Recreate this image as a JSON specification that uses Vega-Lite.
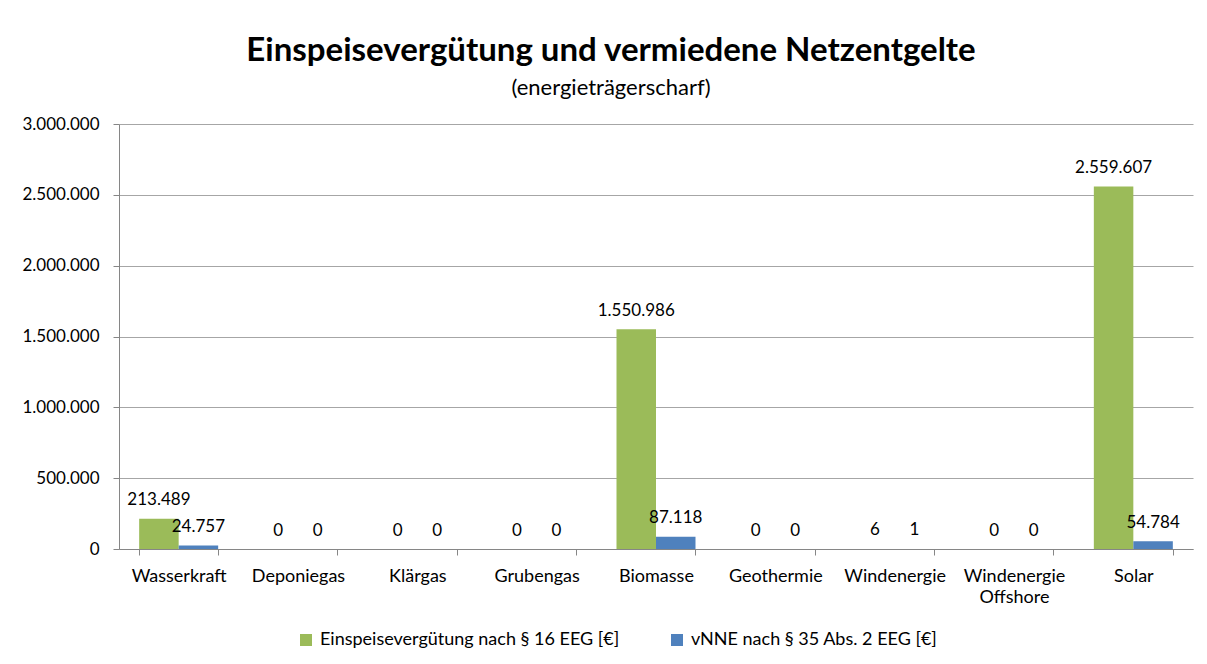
{
  "$schema": "https://vega.github.io/schema/vega-lite/v6.json",
  "width": 1074,
  "height": 425,
  "autosize": {"type": "none"},
  "padding": {"left": 119, "top": 124, "right": 14, "bottom": 115},
  "background": "white",
  "config": {
    "locale": {"number": {"decimal": ",", "thousands": ".", "grouping": [3], "currency": ["", " €"]}},
    "font": "Lato",
    "view": {"stroke": null},
    "axis": {"labelFont": "Lato", "labelFontSize": 17, "labelColor": "#000000", "domainColor": "#868686", "tickColor": "#868686", "gridColor": "#a6a6a6"}
  },
  "title": {
    "text": "Einspeisevergütung und vermiedene Netzentgelte",
    "subtitle": "(energieträgerscharf)",
    "font": "Lato",
    "fontSize": 33,
    "fontWeight": "bold",
    "color": "#000000",
    "subtitleFont": "Lato",
    "subtitleFontSize": 22,
    "subtitleColor": "#000000",
    "subtitlePadding": 10,
    "anchor": "middle",
    "frame": "group",
    "dx": -45,
    "offset": 16
  },
  "data": {
    "values": [
      {"Energieträger": "Wasserkraft", "Reihe": "Einspeisevergütung nach § 16 EEG [€]", "Wert": 213489},
      {"Energieträger": "Wasserkraft", "Reihe": "vNNE nach § 35 Abs. 2 EEG [€]", "Wert": 24757},
      {"Energieträger": "Deponiegas", "Reihe": "Einspeisevergütung nach § 16 EEG [€]", "Wert": 0},
      {"Energieträger": "Deponiegas", "Reihe": "vNNE nach § 35 Abs. 2 EEG [€]", "Wert": 0},
      {"Energieträger": "Klärgas", "Reihe": "Einspeisevergütung nach § 16 EEG [€]", "Wert": 0},
      {"Energieträger": "Klärgas", "Reihe": "vNNE nach § 35 Abs. 2 EEG [€]", "Wert": 0},
      {"Energieträger": "Grubengas", "Reihe": "Einspeisevergütung nach § 16 EEG [€]", "Wert": 0},
      {"Energieträger": "Grubengas", "Reihe": "vNNE nach § 35 Abs. 2 EEG [€]", "Wert": 0},
      {"Energieträger": "Biomasse", "Reihe": "Einspeisevergütung nach § 16 EEG [€]", "Wert": 1550986},
      {"Energieträger": "Biomasse", "Reihe": "vNNE nach § 35 Abs. 2 EEG [€]", "Wert": 87118},
      {"Energieträger": "Geothermie", "Reihe": "Einspeisevergütung nach § 16 EEG [€]", "Wert": 0},
      {"Energieträger": "Geothermie", "Reihe": "vNNE nach § 35 Abs. 2 EEG [€]", "Wert": 0},
      {"Energieträger": "Windenergie", "Reihe": "Einspeisevergütung nach § 16 EEG [€]", "Wert": 6},
      {"Energieträger": "Windenergie", "Reihe": "vNNE nach § 35 Abs. 2 EEG [€]", "Wert": 1},
      {"Energieträger": "Windenergie Offshore", "Reihe": "Einspeisevergütung nach § 16 EEG [€]", "Wert": 0},
      {"Energieträger": "Windenergie Offshore", "Reihe": "vNNE nach § 35 Abs. 2 EEG [€]", "Wert": 0},
      {"Energieträger": "Solar", "Reihe": "Einspeisevergütung nach § 16 EEG [€]", "Wert": 2559607},
      {"Energieträger": "Solar", "Reihe": "vNNE nach § 35 Abs. 2 EEG [€]", "Wert": 54784}
    ]
  },
  "encoding": {
    "x": {
      "field": "Energieträger",
      "type": "nominal",
      "sort": null,
      "scale": {"paddingInner": 0.338, "paddingOuter": 0.169},
      "axis": {
        "title": null,
        "labelAngle": 0,
        "labelFontSize": 18,
        "tickBand": "extent",
        "tickSize": 6,
        "labelPadding": 12,
        "labelLineHeight": 21,
        "labelExpr": "datum.value == 'Windenergie Offshore' ? ['Windenergie', 'Offshore'] : datum.label",
        "grid": false
      }
    },
    "xOffset": {"field": "Reihe", "type": "nominal", "sort": null, "scale": {"padding": 0}},
    "y": {
      "field": "Wert",
      "type": "quantitative",
      "scale": {"domain": [0, 3000000], "nice": false},
      "axis": {
        "title": null,
        "values": [0, 500000, 1000000, 1500000, 2000000, 2500000, 3000000],
        "format": ",d",
        "tickSize": 6,
        "labelPadding": 14,
        "grid": true
      }
    }
  },
  "layer": [
    {
      "mark": {"type": "bar"},
      "encoding": {
        "color": {
          "field": "Reihe",
          "type": "nominal",
          "scale": {"domain": ["Einspeisevergütung nach § 16 EEG [€]", "vNNE nach § 35 Abs. 2 EEG [€]"], "range": ["#9BBB59", "#4F81BD"]},
          "legend": {
            "title": null,
            "orient": "none",
            "direction": "horizontal",
            "legendX": 178,
            "legendY": 507,
            "symbolType": "square",
            "symbolSize": 144,
            "symbolStrokeWidth": 0,
            "labelFont": "Lato",
            "labelFontSize": 18,
            "labelColor": "#000000",
            "labelOffset": 5,
            "columnPadding": 48,
            "labelLimit": 400
          }
        }
      }
    },
    {
      "mark": {"type": "text", "baseline": "alphabetic", "dy": -13.5, "font": "Lato", "fontSize": 17, "color": "#000000"},
      "encoding": {
        "text": {"field": "Wert", "type": "quantitative", "format": ",d"}
      }
    }
  ]
}
